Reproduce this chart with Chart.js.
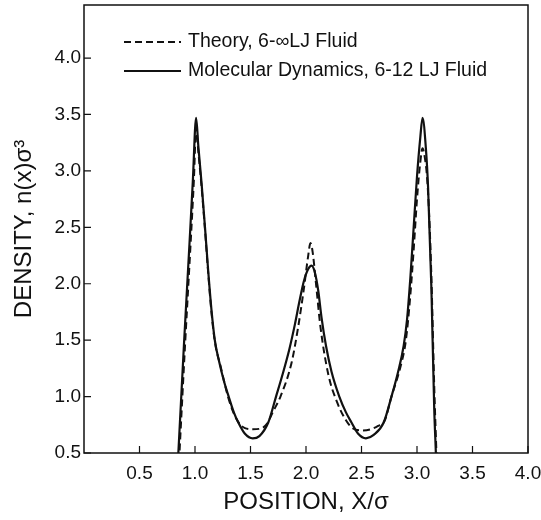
<!DOCTYPE html>
<html>
<head>
<meta charset="utf-8">
<script src="https://cdn.jsdelivr.net/npm/chart.js@4.4.1/dist/chart.umd.min.js"></script>
<style>
  html, body { margin: 0; padding: 0; background: #fff; }
</style>
</head>
<body>
<canvas id="densityChart" width="541" height="520"></canvas>
<script>
// density profile across the slit pore
var mdX = [0.80, 0.85, 0.90, 0.95, 0.98, 1.01, 1.03, 1.06, 1.09, 1.12, 1.15, 1.18, 1.22, 1.26, 1.30, 1.35, 1.39, 1.45, 1.52, 1.58, 1.66, 1.73, 1.79, 1.85, 1.90, 1.94, 1.98, 2.02, 2.05, 2.08, 2.11, 2.14, 2.18, 2.23, 2.30, 2.36, 2.41, 2.47, 2.54, 2.61, 2.70, 2.77, 2.83, 2.88, 2.91, 2.94, 2.97, 3.00, 3.03, 3.05, 3.08, 3.10, 3.13, 3.155, 3.17, 3.19];
var mdDensity = [-0.45, 0.5, 1.45, 2.35, 2.9, 3.47, 3.22, 2.88, 2.5, 2.1, 1.75, 1.49, 1.30, 1.14, 1.01, 0.86, 0.77, 0.67, 0.63, 0.65, 0.77, 1.00, 1.20, 1.42, 1.64, 1.84, 2.02, 2.13, 2.16, 2.10, 1.94, 1.70, 1.45, 1.22, 1.00, 0.86, 0.77, 0.67, 0.63, 0.66, 0.77, 1.00, 1.22, 1.45, 1.68, 2.05, 2.5, 2.95, 3.3, 3.47, 3.2, 2.85, 1.95, 0.9, 0.5, -0.1];

var theoryX = [0.81, 0.86, 0.91, 0.96, 0.99, 1.01, 1.03, 1.06, 1.09, 1.12, 1.15, 1.18, 1.23, 1.30, 1.35, 1.40, 1.45, 1.52, 1.60, 1.65, 1.70, 1.77, 1.87, 1.93, 1.98, 2.02, 2.04, 2.06, 2.09, 2.13, 2.20, 2.28, 2.36, 2.42, 2.50, 2.58, 2.65, 2.71, 2.77, 2.85, 2.90, 2.94, 2.97, 3.00, 3.03, 3.05, 3.07, 3.09, 3.11, 3.13, 3.155, 3.175, 3.20];
var theoryDensity = [-0.45, 0.5, 1.45, 2.35, 2.92, 3.38, 3.17, 2.85, 2.48, 2.08, 1.73, 1.48, 1.27, 0.99, 0.85, 0.76, 0.72, 0.71, 0.72, 0.76, 0.86, 1.0, 1.30, 1.62, 1.95, 2.25, 2.36, 2.28, 2.0, 1.62, 1.2, 0.95, 0.79, 0.72, 0.70, 0.71, 0.74, 0.79, 1.0, 1.26, 1.5, 1.9, 2.3, 2.75, 3.08, 3.2, 3.12, 2.95, 2.6, 2.05, 1.1, 0.5, -0.2];

var xTicks = [0.5, 1.0, 1.5, 2.0, 2.5, 3.0, 3.5, 4.0];
var yTicks = [0.5, 1.0, 1.5, 2.0, 2.5, 3.0, 3.5, 4.0];

var fontFamily = "'Liberation Sans', Arial, Helvetica, sans-serif";
var ink = '#111';

function toPoints(xs, ys) {
    var pts = [];
    for (var i = 0; i < xs.length; i++) {
        pts.push({ x: xs[i], y: ys[i] });
    }
    return pts;
}

// box round the plot and inward tick marks
var framePlugin = {
    id: 'frame',
    afterDraw: function(chart) {
        var ctx = chart.ctx;
        var a = chart.chartArea;
        ctx.save();
        ctx.strokeStyle = ink;
        ctx.lineWidth = 1.5;
        ctx.strokeRect(a.left, a.top, a.right - a.left, a.bottom - a.top);
        ctx.lineWidth = 1.2;
        ctx.beginPath();
        xTicks.forEach(function(v) {
            var px = chart.scales.x.getPixelForValue(v);
            ctx.moveTo(px, a.bottom);
            ctx.lineTo(px, a.bottom - 7);
        });
        yTicks.forEach(function(v) {
            var py = chart.scales.y.getPixelForValue(v);
            ctx.moveTo(a.left, py);
            ctx.lineTo(a.left + 7, py);
        });
        ctx.stroke();
        ctx.restore();
    }
};

// legend sits inside the plot, top left
var insideLegend = {
    id: 'insideLegend',
    afterDraw: function(chart) {
        var ctx = chart.ctx;
        var a = chart.chartArea;
        ctx.save();
        ctx.font = '19.5px ' + fontFamily;
        ctx.fillStyle = ink;
        ctx.textBaseline = 'middle';
        chart.data.datasets.forEach(function(ds, i) {
            var y = a.top + 37 + i * 29;
            ctx.strokeStyle = ink;
            ctx.lineWidth = 2;
            ctx.setLineDash(ds.borderDash || []);
            ctx.beginPath();
            ctx.moveTo(a.left + 40, y);
            ctx.lineTo(a.left + 97, y);
            ctx.stroke();
            ctx.setLineDash([]);
            ctx.fillText(ds.label, a.left + 104, y);
        });
        ctx.restore();
    }
};

var ctx = document.getElementById('densityChart');
var chart = new Chart(ctx, {
    type: 'line',
    data: {
        datasets: [{
            label: 'Theory, 6-\u221ELJ Fluid',
            data: toPoints(theoryX, theoryDensity),
            borderColor: ink,
            borderWidth: 2,
            borderDash: [7, 4],
            pointRadius: 0,
            fill: false,
            cubicInterpolationMode: 'monotone'
        }, {
            label: 'Molecular Dynamics, 6-12 LJ Fluid',
            data: toPoints(mdX, mdDensity),
            borderColor: ink,
            borderWidth: 2.2,
            pointRadius: 0,
            fill: false,
            cubicInterpolationMode: 'monotone'
        }]
    },
    options: {
        responsive: false,
        animation: false,
        layout: { padding: { top: 5, right: 13, left: 0, bottom: 0 } },
        plugins: {
            legend: { display: false },
            tooltip: { enabled: false }
        },
        scales: {
            x: {
                type: 'linear',
                min: 0,
                max: 4.0,
                grid: { display: false, drawTicks: false },
                border: { display: false },
                afterBuildTicks: function(axis) {
                    axis.ticks = xTicks.map(function(v) { return { value: v }; });
                },
                afterFit: function(axis) {
                    axis.height = 67;
                    axis.paddingLeft = 0;
                    axis.paddingRight = 0;
                },
                ticks: {
                    color: ink,
                    font: { family: fontFamily, size: 19 },
                    padding: 9,
                    maxRotation: 0,
                    autoSkip: false,
                    callback: function(v) { return Number(v).toFixed(1); }
                },
                title: {
                    display: true,
                    text: 'POSITION, X/\u03C3',
                    color: ink,
                    font: { family: fontFamily, size: 24 },
                    padding: { top: 0, bottom: 3 }
                }
            },
            y: {
                type: 'linear',
                min: 0.5,
                max: 4.47,
                grid: { display: false, drawTicks: false },
                border: { display: false },
                afterBuildTicks: function(axis) {
                    axis.ticks = yTicks.map(function(v) { return { value: v }; });
                },
                afterFit: function(axis) {
                    axis.width = 84;
                    axis.paddingTop = 0;
                    axis.paddingBottom = 0;
                },
                ticks: {
                    color: ink,
                    font: { family: fontFamily, size: 19 },
                    padding: 3,
                    callback: function(v) { return Number(v).toFixed(1); }
                },
                title: {
                    display: true,
                    text: 'DENSITY, n(x)\u03C3\u00B3',
                    color: ink,
                    font: { family: fontFamily, size: 24 },
                    padding: { top: 10, bottom: 0 }
                }
            }
        }
    },
    plugins: [framePlugin, insideLegend]
});
</script>
</body>
</html>
